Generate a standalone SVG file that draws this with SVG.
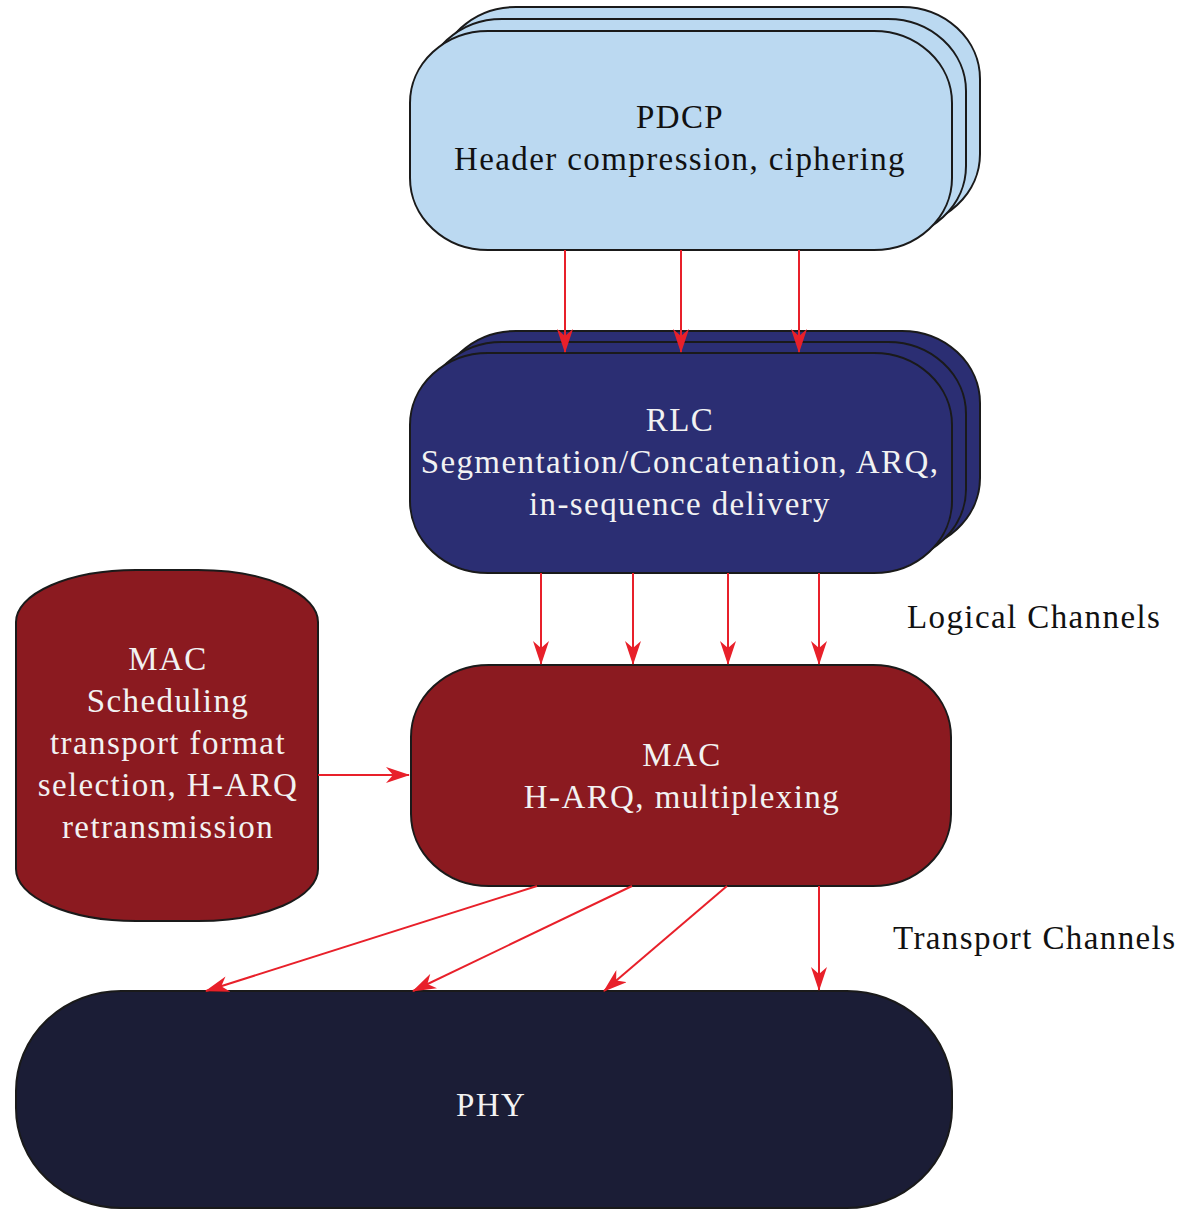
<svg xmlns="http://www.w3.org/2000/svg" width="1182" height="1209" viewBox="0 0 1182 1209">
<style>
.box{stroke:#1a1a1a;stroke-width:2}
.pdcp{fill:#BBD9F1}
.rlc{fill:#2B2E73}
.mac{fill:#8B1A20}
.phy{fill:#1B1D36}
text{font-family:"Liberation Serif","Times New Roman",serif;font-size:33px;text-anchor:middle;letter-spacing:1.4px}
.dark{fill:#111}
.light{fill:#f2f2f2}
.lbl{fill:#111;text-anchor:start}
.conn line{stroke:#E8202A;stroke-width:2;fill:none;marker-end:url(#ah)}
</style>
<defs>
<marker id="ah" viewBox="0 0 24 16" refX="23" refY="8" markerWidth="24" markerHeight="16" markerUnits="userSpaceOnUse" orient="auto">
<path d="M0,0 L24,8 L0,16 L7,8 Z" fill="#E8202A"/>
</marker>
</defs>
<rect width="1182" height="1209" fill="#fff"/>
<g id="pdcp">
<rect class="box pdcp" x="438" y="7" width="542" height="219" rx="78" ry="72"/>
<rect class="box pdcp" x="424" y="19" width="542" height="219" rx="78" ry="72"/>
<rect class="box pdcp" x="410" y="31" width="542" height="219" rx="78" ry="72"/>
<text class="dark" x="680" y="128">PDCP</text>
<text class="dark" x="680" y="170">Header compression, ciphering</text>
</g>
<g id="rlc">
<rect class="box rlc" x="438" y="331" width="542" height="219" rx="78" ry="72"/>
<rect class="box rlc" x="424" y="342" width="542" height="219" rx="78" ry="72"/>
<rect class="box rlc" x="410" y="353" width="542" height="220" rx="78" ry="72"/>
<text class="light" x="680" y="431">RLC</text>
<text class="light" x="680" y="473">Segmentation/Concatenation, ARQ,</text>
<text class="light" x="680" y="515">in-sequence delivery</text>
</g>
<g id="mac-sched">
<rect class="box mac" x="16" y="570" width="302" height="351" rx="120" ry="52"/>
<text class="light" x="168" y="670">MAC</text>
<text class="light" x="168" y="712">Scheduling</text>
<text class="light" x="168" y="754">transport format</text>
<text class="light" x="168" y="796">selection, H-ARQ</text>
<text class="light" x="168" y="838">retransmission</text>
</g>
<g id="mac">
<rect class="box mac" x="411" y="665" width="540" height="221" rx="78" ry="72"/>
<text class="light" x="682" y="766">MAC</text>
<text class="light" x="682" y="808">H-ARQ, multiplexing</text>
</g>
<g id="phy">
<rect class="box phy" x="16" y="991" width="936" height="217" rx="105" ry="100"/>
<text class="light" x="491" y="1116">PHY</text>
</g>
<g id="labels">
<text class="lbl" x="907" y="628">Logical Channels</text>
<text class="lbl" x="893" y="949">Transport Channels</text>
</g>
<g class="conn" id="connectors">
<line x1="565" y1="250" x2="565" y2="352"/>
<line x1="681" y1="250" x2="681" y2="352"/>
<line x1="799" y1="250" x2="799" y2="352"/>
<line x1="541" y1="573" x2="541" y2="664"/>
<line x1="633" y1="573" x2="633" y2="664"/>
<line x1="728" y1="573" x2="728" y2="664"/>
<line x1="819" y1="573" x2="819" y2="664"/>
<line x1="318" y1="775" x2="409" y2="775"/>
<line x1="537" y1="886" x2="206" y2="991"/>
<line x1="632" y1="886" x2="413" y2="991"/>
<line x1="727" y1="886" x2="604" y2="991"/>
<line x1="819" y1="886" x2="819" y2="990"/>
</g>
</svg>
